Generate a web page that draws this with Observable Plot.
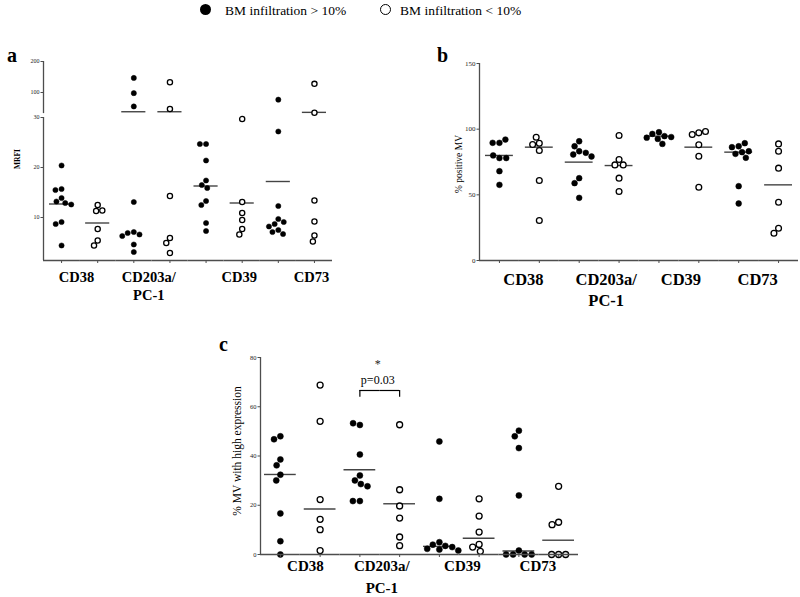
<!DOCTYPE html>
<html>
<head>
<meta charset="utf-8">
<script src="https://cdn.jsdelivr.net/npm/d3@7"></script>
<script src="https://cdn.jsdelivr.net/npm/@observablehq/plot@0.6"></script>
<style>
  body { margin: 0; background: #fff; }
  #page { position: relative; width: 800px; height: 597px; overflow: hidden;
          font-family: "Liberation Serif", "Times New Roman", serif; color: #000; }
  .pan { position: absolute; }
  .letter { position: absolute; font-weight: bold; font-size: 20px; line-height: 1; }
  .leg-dot { position: absolute; width: 11px; height: 11px; border-radius: 50%; box-sizing: border-box; }
  .leg-txt { position: absolute; font-size: 13.5px; line-height: 1; white-space: nowrap; }
</style>
</head>
<body>
<div id="page">
  <div class="leg-dot" style="left:200px;top:4px;background:#000;"></div>
  <div class="leg-txt" id="leg1" style="left:225px;top:4px;"></div>
  <div class="leg-dot" style="left:380px;top:3.5px;border:1.4px solid #000;background:#fff;"></div>
  <div class="leg-txt" id="leg2" style="left:400px;top:4px;"></div>
  <div class="letter" style="left:7px;top:45px;">a</div>
  <div class="letter" style="left:437px;top:45px;">b</div>
  <div class="letter" style="left:219px;top:334px;">c</div>
  <div class="pan" id="paTop" style="left:0px;top:40px;"></div>
  <div class="pan" id="paBot" style="left:0px;top:113px;"></div>
  <div class="pan" id="pb" style="left:420px;top:40px;"></div>
  <div class="pan" id="pc" style="left:200px;top:330px;"></div>
</div>
<script>
// ---------- categories ----------
const markers = ["CD38", "CD203a/\nPC-1", "CD39", "CD73"];
const groups = ["high", "low"];               // BM infiltration > 10% / < 10%
const legendLabels = ["BM infiltration > 10%", "BM infiltration < 10%"];

// ---------- panel a : MRFI (broken axis) ----------
const mrfiHigh = [
  [20.4, 15.7, 15.5, 13.9, 13.2, 12.9, 12.6, 9.1, 8.7, 4.4],
  [147, 98, 55, 13.1, 7.1, 6.9, 6.6, 6.3, 4.6, 3.1],
  [24.7, 24.7, 21.4, 17.4, 16.5, 15.9, 13.3, 12.5, 8.9, 7.3],
  [77, 27.2, 12.3, 9.7, 8.7, 9.1, 8.2, 7.5, 7.1, 6.7]
];
const mrfiLow = [
  [12.5, 11.3, 11.4, 7.7, 5.4, 4.4],
  [133, 47, 14.3, 5.9, 4.9, 2.9],
  [29.7, 13.1, 10.9, 9.5, 7.7, 6.6],
  [128, 34.5, 13.4, 9.2, 6.4, 5.2]
];
const mrfiLineHigh = [12.7, 38, 16.3, 17.2];
const mrfiLineLow = [8.9, 38, 12.9, 36];
const mrfiTicksLower = [10, 20, 30];
const mrfiTicksUpper = [100, 200];
const mrfiLower = [1.4, 30];     // lower segment of the broken axis
const mrfiUpper = [32, 200];     // upper segment of the broken axis

// ---------- panel b : % positive MV ----------
const posHigh = [
  [89.6, 89.6, 92.1, 78, 80, 78, 68, 57.6],
  [90.8, 87, 83.2, 80.7, 82, 79.2, 62.7, 58.9, 47.7],
  [97.7, 96.4, 94.7, 94, 93.5, 92.6, 88.8],
  [87, 86.3, 89.3, 82.5, 83.2, 81.2, 78.2, 56.6, 43.4]
];
const posLow = [
  [89.3, 93.9, 88.3, 83.8, 60.9, 30.5],
  [95.2, 76.9, 72.8, 72.8, 62.7, 52.5],
  [97.2, 95.9, 98.2, 88.1, 79.4, 55.8],
  [88.8, 83.2, 70.3, 44.4, 24.6, 20.8]
];
const posLineHigh = [80, 74.9, 94.7, 82.5];
const posLineLow = [86.3, 72.3, 86.3, 57.6];
const posTicks = [0, 50, 100, 150];

// ---------- panel c : % MV with high expression ----------
const hiHigh = [
  [48, 46.8, 38.6, 36.2, 32.4, 30.1, 16.7, 5.4, 0],
  [52.6, 53.3, 40.6, 32.1, 30.1, 28.6, 27.7, 21.7, 21.7],
  [45.9, 22.6, 5.0, 4.0, 3.5, 3.0, 2.3, 2.0, 1.6],
  [50.3, 48, 43.2, 24, 1.6, 0, 0, 0, 0]
];
const hiLow = [
  [68.8, 54.1, 22.3, 14.3, 10.1, 1.6],
  [52.7, 26.3, 19.7, 14.8, 7.1, 3.6],
  [22.6, 15.6, 9.1, 4.1, 3.0, 1.3],
  [27.7, 13.1, 12.1, 0, 0, 0]
];
const hiLineHigh = [32.5, 34.4, 3.3, 1.4];
const hiLineLow = [18.5, 20.6, 6.6, 5.8];
const hiTicks = [0, 20, 40, 60, 80];
const sig = {marker: 1, bracket: 66.6, leg: 63.9, star: "*", starY: 77.2, p: "p=0.03", pY: 70.7};

document.getElementById("leg1").textContent = legendLabels[0];
document.getElementById("leg2").textContent = legendLabels[1];

const keyOf = (i, g) => markers[i] + "|" + g;
const keys = markers.flatMap((m, i) => groups.map(g => keyOf(i, g)));
const axisColor = "#4d4d4d";

function panel(o) {
  const bw = (o.width - o.mL - o.mR) / keys.length;
  const inDom = v => v >= o.yDomain[0] - 1e-9 && v <= o.yDomain[1] + 1e-9;
  const rows = (arr, g) => arr.flatMap((vals, i) => vals.filter(inDom).map(v => ({key: keyOf(i, g), value: v})));
  const lineRows = (arr, g) => arr.map((v, i) => ({key: keyOf(i, g), value: v})).filter(d => inDom(d.value));
  const marks = [
    // invisible anchor so that every column facet is non-empty
    Plot.tickY(keys.map(key => ({key, v: o.yDomain[0]})), {fx: "key", y: "v", stroke: "none"}),
    // left axis line
    Plot.ruleX([{key: keys[0], y1: o.yDomain[0], y2: o.yDomain[1]}],
      {x: null, fx: "key", y1: "y1", y2: "y2", dx: -bw / 2, stroke: axisColor, strokeWidth: 1.3}),
    Plot.axisY({ticks: o.ticks, tickSize: 2.5, tickPadding: 1.5, fontSize: o.tickFont, label: null, stroke: axisColor, fill: "#222"}),
    Plot.tickY(lineRows(o.lineHigh, "high"), {fx: "key", y: "value", insetLeft: o.inset, insetRight: o.inset, stroke: "#444", strokeWidth: 1.4}),
    Plot.tickY(lineRows(o.lineLow, "low"), {fx: "key", y: "value", insetLeft: o.inset, insetRight: o.inset, stroke: "#444", strokeWidth: 1.4}),
    Plot.dot(rows(o.high, "high"), Plot.dodgeX("middle", {fx: "key", y: "value", r: o.r, padding: o.pad, fill: "black", stroke: "black", strokeWidth: 0.5})),
    Plot.dot(rows(o.low, "low"), Plot.dodgeX("middle", {fx: "key", y: "value", r: o.r, padding: o.pad, fill: "white", stroke: "black", strokeWidth: 1.3}))
  ];
  if (o.bottom) {
    marks.push(
      Plot.ruleY([o.yDomain[0]], {stroke: axisColor, strokeWidth: 1.3}),
      Plot.axisFx({anchor: "bottom", tickSize: 3, tickFormat: () => "", label: null, stroke: axisColor}),
      ...markers.map((m, i) => Plot.text([{key: keyOf(i, o.catGroup[i]), label: m}], {fx: "key", text: "label",
        frameAnchor: "bottom", lineAnchor: "top", dx: o.catDx[i], dy: o.catDy, fontSize: o.catFont,
        fontWeight: "bold", lineHeight: o.catLH, fill: "black"}))
    );
  } else {
    marks.push(Plot.axisFx({anchor: "bottom", ticks: [], tickSize: 0, tickFormat: () => "", label: null}));
  }
  if (o.ylabel) {
    marks.push(Plot.text([{key: keys[0], label: o.ylabel}], {fx: "key", text: "label", frameAnchor: "left",
      textAnchor: "middle", dx: -o.ylabelDx, dy: o.ylabelDy || 0, rotate: -90, fontSize: o.ylabelSize,
      fontWeight: o.ylabelBold ? "bold" : "normal", fill: "black"}));
  }
  if (o.extra) marks.push(...o.extra(bw));
  return Plot.plot({
    width: o.width, height: o.height,
    marginLeft: o.mL, marginRight: o.mR, marginTop: o.mT, marginBottom: o.mB,
    fx: {domain: keys, padding: 0, round: false},
    y: {domain: o.yDomain},
    style: {fontFamily: "Liberation Serif, Times New Roman, serif", background: "transparent", overflow: "visible", color: "black"},
    marks
  });
}

// panel a, upper part of broken axis (32..200)
document.getElementById("paTop").append(panel({
  width: 400, height: 76, mL: 43, mR: 68, mT: 21, mB: 2.9,
  yDomain: mrfiUpper, ticks: mrfiTicksUpper, tickFont: 6,
  high: mrfiHigh, low: mrfiLow, lineHigh: mrfiLineHigh, lineLow: mrfiLineLow,
  r: 2.6, pad: 2.1, inset: 6, bottom: false
}));
// panel a, lower part of broken axis (1.4..30)
document.getElementById("paBot").append(panel({
  width: 400, height: 197, mL: 43, mR: 68, mT: 4, mB: 50,
  yDomain: mrfiLower, ticks: mrfiTicksLower, tickFont: 6,
  high: mrfiHigh, low: mrfiLow, lineHigh: mrfiLineHigh, lineLow: mrfiLineLow,
  r: 2.6, pad: 2.1, inset: 6, bottom: true,
  ylabel: "MRFI", ylabelSize: 7.5, ylabelBold: true, ylabelDx: 26, ylabelDy: -30,
  catGroup: ["high", "high", "low", "low"], catDx: [15, 15, -3, -3], catDy: 9, catFont: 14.5, catLH: 1.25
}));

// panel b
document.getElementById("pb").append(panel({
  width: 380, height: 275, mL: 59, mR: 2, mT: 23, mB: 55,
  yDomain: [0, 150], ticks: posTicks, tickFont: 7,
  high: posHigh, low: posLow, lineHigh: posLineHigh, lineLow: posLineLow,
  r: 2.9, pad: 2, inset: 6, bottom: true,
  ylabel: "% positive MV", ylabelSize: 9.5, ylabelBold: false, ylabelDx: 21, ylabelDy: 2,
  catGroup: ["high", "high", "high", "high"], catDx: [24, 27, 22, 19], catDy: 10, catFont: 16.5, catLH: 1.25
}));

// panel c
document.getElementById("pc").append(panel({
  width: 400, height: 267, mL: 60, mR: 22, mT: 27, mB: 43,
  yDomain: [0, 80], ticks: hiTicks, tickFont: 6.5,
  high: hiHigh, low: hiLow, lineHigh: hiLineHigh, lineLow: hiLineLow,
  r: 3, pad: -1, inset: 4, bottom: true,
  ylabel: "% MV with high expression", ylabelSize: 11.5, ylabelBold: false, ylabelDx: 23, ylabelDy: -5,
  catGroup: ["high", "high", "high", "high"], catDx: [25, 22, 23, 19], catDy: 1, catFont: 15, catLH: 1.45,
  extra: (bw) => {
    const kH = keyOf(sig.marker, "high"), kL = keyOf(sig.marker, "low");
    return [
      Plot.tickY([{key: kH, y: sig.bracket}], {fx: "key", y: "y", insetLeft: bw / 2, stroke: "black", strokeWidth: 1.2}),
      Plot.tickY([{key: kL, y: sig.bracket}], {fx: "key", y: "y", insetRight: bw / 2, stroke: "black", strokeWidth: 1.2}),
      Plot.ruleX([{key: kH, y1: sig.leg, y2: sig.bracket}, {key: kL, y1: sig.leg, y2: sig.bracket}],
        {x: null, fx: "key", y1: "y1", y2: "y2", stroke: "black", strokeWidth: 1.2}),
      Plot.text([{key: kH, y: sig.pY, t: sig.p}], {fx: "key", y: "y", text: "t", dx: bw / 2 - 2, fontSize: 12, fill: "black"}),
      Plot.text([{key: kH, y: sig.starY, t: sig.star}], {fx: "key", y: "y", text: "t", dx: bw / 2 - 2, fontSize: 12, fill: "#222"})
    ];
  }
}));
</script>
</body>
</html>
